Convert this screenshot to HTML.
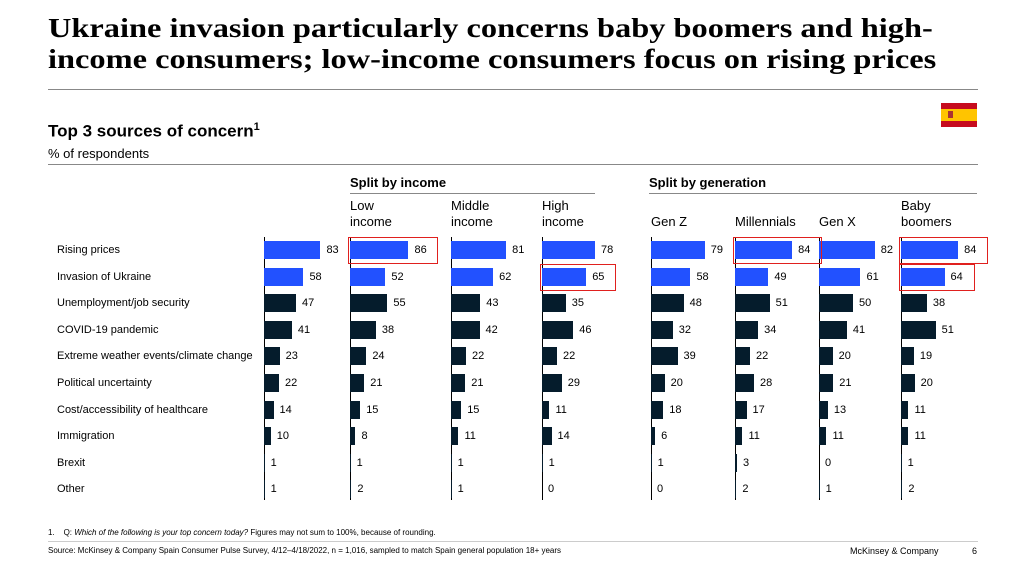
<!DOCTYPE html>
<html><head><meta charset="utf-8"><style>
body{margin:0;width:1024px;height:576px;background:#fff;position:relative;overflow:hidden;font-family:"Liberation Sans",Arial,sans-serif;color:#000}
.abs{position:absolute}
h1{position:absolute;left:48px;top:13px;margin:0;font:bold 27px/31px "Liberation Serif",serif;color:#000;white-space:nowrap;transform:scaleX(1.2);transform-origin:0 0}
.lbl{position:absolute;font-size:11px;left:57px}
.hdr{position:absolute;font-size:13px;line-height:16px}
.v{position:absolute;font-size:11px}
</style></head><body>
<h1>Ukraine invasion particularly concerns baby boomers and high-<br>income consumers; low-income consumers focus on rising prices</h1>
<div class="abs" style="left:48px;top:89px;width:930px;height:1px;background:#888"></div>
<div class="abs" style="left:48px;top:121px;font-size:17px;font-weight:bold">Top 3 sources of concern<sup style="font-size:11px">1</sup></div>
<div class="abs" style="left:48px;top:146px;font-size:13px">% of respondents</div>
<div class="abs" style="left:48px;top:164px;width:930px;height:1px;background:#888"></div>
<div class="abs" style="left:941px;top:103px;width:36px;height:24px;background:linear-gradient(#c60b1e 0 25%,#ffc400 25% 75%,#c60b1e 75%)"><div style="position:absolute;left:7px;top:8px;width:5px;height:7px;background:#a33"></div></div>
<div class="hdr" style="left:350px;top:175px;font-weight:bold">Split by income</div>
<div class="abs" style="left:350px;top:193px;width:245px;height:1px;background:#888"></div>
<div class="hdr" style="left:649px;top:175px;font-weight:bold">Split by generation</div>
<div class="abs" style="left:649px;top:193px;width:328px;height:1px;background:#888"></div>
<div id="chart"></div>
<div class="abs" style="left:48px;top:528px;font-size:8px">1.&nbsp;&nbsp;&nbsp; Q: <i>Which of the following is your top concern today?</i> Figures may not sum to 100%, because of rounding.</div>
<div class="abs" style="left:48px;top:541px;width:930px;height:1px;background:#ccc"></div>
<div class="abs" style="left:48px;top:546px;font-size:8px">Source: McKinsey &amp; Company Spain Consumer Pulse Survey, 4/12–4/18/2022, n = 1,016, sampled to match Spain general population 18+ years</div>
<div class="abs" style="left:850px;top:546px;font-size:9px">McKinsey &amp; Company</div>
<div class="abs" style="left:972px;top:546px;font-size:9px">6</div>
<script>
const categories=["Rising prices","Invasion of Ukraine","Unemployment/job security","COVID-19 pandemic","Extreme weather events/climate change","Political uncertainty","Cost/accessibility of healthcare","Immigration","Brexit","Other"];
const columnNames=["","Low<br>income","Middle<br>income","High<br>income","Gen Z","Millennials","Gen X","Baby<br>boomers"];
const overall=[83,58,47,41,23,22,14,10,1,1];
const lowIncome=[86,52,55,38,24,21,15,8,1,2];
const middleIncome=[81,62,43,42,22,21,15,11,1,1];
const highIncome=[78,65,35,46,22,29,11,14,1,0];
const genZ=[79,58,48,32,39,20,18,6,1,0];
const millennials=[84,49,51,34,22,28,17,11,3,2];
const genX=[82,61,50,41,20,21,13,11,0,1];
const boomers=[84,64,38,51,19,20,11,11,1,2];
const highlights=[[1,0],[3,1],[5,0],[7,0],[7,1]];
const series=[overall,lowIncome,middleIncome,highIncome,genZ,millennials,genX,boomers];
const colX=[264,350,451,542,651,735,819,901];
const scale=0.68,y0=250,step=26.6,bh=18;
const xS=v=>v*scale, yS=i=>y0+i*step;
const c=document.getElementById('chart');
function mk(css,html){const d=document.createElement('div');d.className=css.cls||'abs';d.style.cssText=css.s;if(html!==undefined)d.innerHTML=html;c.appendChild(d);return d;}
categories.forEach((t,i)=>{const d=mk({cls:'lbl',s:`top:${yS(i)-6}px`},t);

});
columnNames.forEach((n,j)=>{if(!n)return;const d=mk({cls:'hdr',s:`left:${colX[j]}px;top:${n.includes('<br>')?198:214}px`},n);

});
series.forEach((arr,j)=>{
const ax=mk({s:`left:${colX[j]}px;top:${yS(0)-13}px;width:1px;height:${step*9.5+10}px;background:#000`});


arr.forEach((v,i)=>{
const w=xS(v);
const b=mk({s:`left:${colX[j]}px;top:${yS(i)-bh/2}px;width:${w}px;height:${bh}px;background:${i<2?'#2251ff':'#051c2c'}`});


const l=mk({cls:'v',s:`left:${colX[j]+w+6}px;top:${yS(i)-6}px`},v);


});});
highlights.forEach(([j,i])=>{const w=xS(series[j][i]);
const h=mk({s:`left:${colX[j]-2}px;top:${yS(i)-13}px;width:${w+32}px;height:27px;border:1.5px solid #e0201e;box-sizing:border-box`});

});
</script>
</body></html>
